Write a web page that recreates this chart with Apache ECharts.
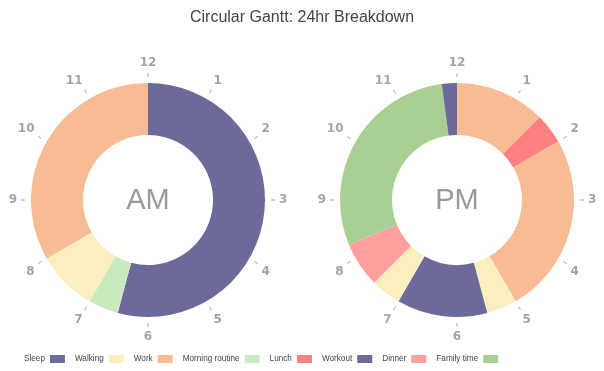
<!DOCTYPE html>
<html>
<head>
<meta charset="utf-8">
<script src="https://cdn.jsdelivr.net/npm/echarts@6/dist/echarts.min.js"></script>
<style>html,body{margin:0;padding:0;background:#fff}#c{width:604px;height:371px}</style>
</head>
<body>
<div id="c"></div>
<script>
const categories = ['Sleep','Walking','Work','Morning routine','Lunch','Workout','Dinner','Family time'];
const categoryColors = ['#6c6a9a','#fbefbf','#f8bc94','#c9eabf','#ff8080','#6c6a9a','#ff9e9e','#a9cf93'];
const amNames = ['Sleep','Morning routine','Walking','Work'];
const amHours = [6.5, 0.5, 1, 4];
const pmNames = ['Work','Lunch','Work','Walking','Workout','Walking','Dinner','Family time','Sleep'];
const pmHours = [1.5, 0.5, 3, 0.5, 1.5, 0.5, 0.75, 3.5, 0.25];
const clockLabels = ['12','1','2','3','4','5','6','7','8','9','10','11'];
const dialTitles = ['AM','PM'];

const colorOf = n => categoryColors[categories.indexOf(n)];
const mk = (names, vals) => names.map((n,i)=>({name:n, value:vals[i], itemStyle:{color:colorOf(n)}}));

const centers = [[148,200],[457,200]];
const chart = echarts.init(document.getElementById('c'));
const angleAxisCfg = i => ({
  polarIndex:i, type:'category', data:clockLabels, boundaryGap:false,
  startAngle:90, clockwise:true,
  axisLine:{show:false}, splitLine:{show:false},
  axisTick:{show:true, length:4, lineStyle:{color:'#aaa39a', width:1}},
  axisLabel:{margin:8, color:'#aaa39a', fontWeight:'bold', fontSize:12, fontFamily:'DejaVu Sans'}
});
chart.setOption({
  animation:false,
  title:{text:'Circular Gantt: 24hr Breakdown', left:'center', top:5,
    textStyle:{fontSize:16, fontWeight:'normal', color:'#444', fontFamily:'Liberation Sans'}},
  legend:{data:categories, bottom:3, left:19, align:'right', itemWidth:15, itemHeight:8, itemGap:10,
    icon:'rect', textStyle:{fontSize:8.2, color:'#444', fontFamily:'Liberation Sans', padding:[0,0,0,0]}},
  polar:[{center:centers[0], radius:123},{center:centers[1], radius:123}],
  angleAxis:[angleAxisCfg(0), angleAxisCfg(1)],
  radiusAxis:[{polarIndex:0, show:false},{polarIndex:1, show:false}],
  graphic: dialTitles.map((t,i)=>({type:'text', x:centers[i][0], y:centers[i][1]+1,
    style:{text:t, fill:'#999', font:'29px Liberation Sans', textAlign:'center', textVerticalAlign:'middle'}})),
  series:[
    {type:'pie', center:centers[0], radius:[65,117], startAngle:90, clockwise:true, label:{show:false},
     labelLine:{show:false}, emphasis:{disabled:true}, data:mk(amNames, amHours)},
    {type:'pie', center:centers[1], radius:[65,117], startAngle:90, clockwise:true, label:{show:false},
     labelLine:{show:false}, emphasis:{disabled:true}, data:mk(pmNames, pmHours)}
  ]
});
</script>
</body>
</html>
